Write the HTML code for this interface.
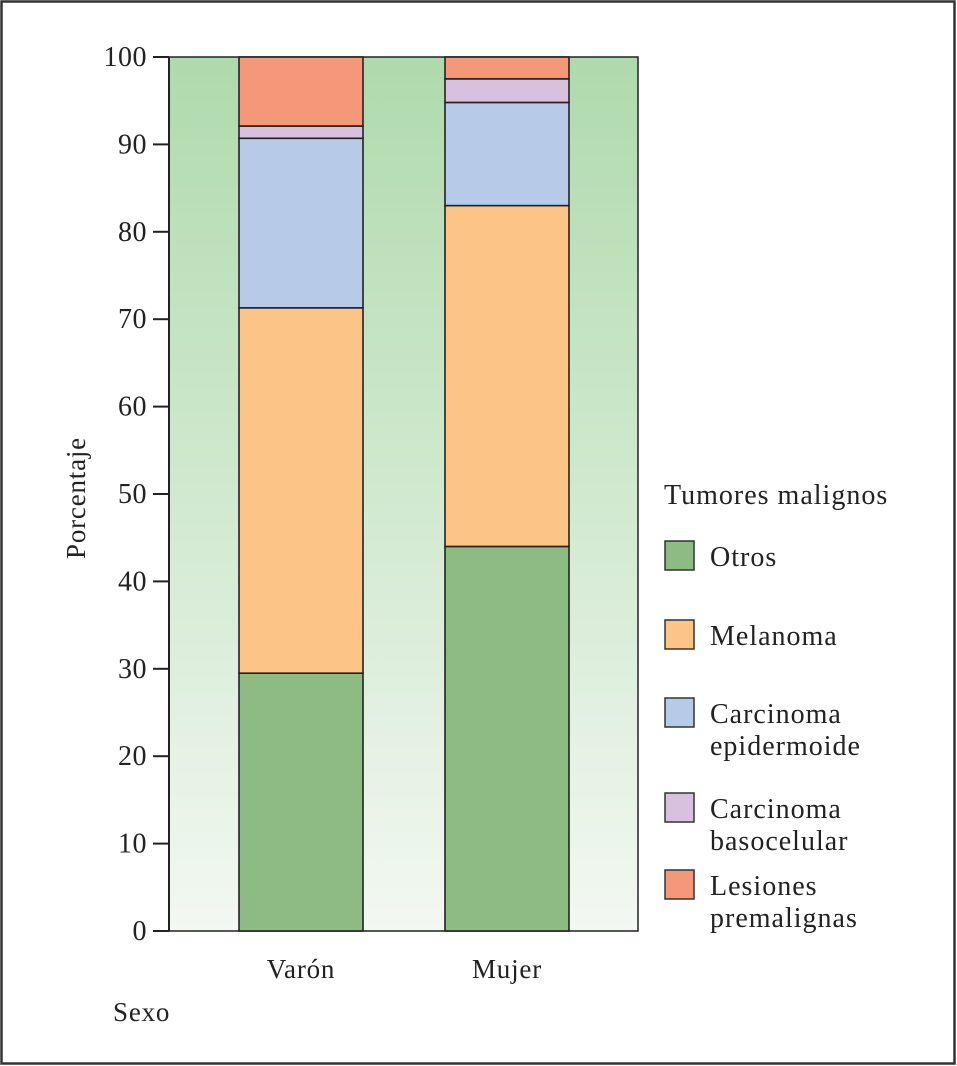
<!DOCTYPE html>
<html><head><meta charset="utf-8"><style>
html,body{margin:0;padding:0;background:#fff;}
svg{display:block;}
text{font-family:"Liberation Serif",serif;fill:#222;}
</style></head><body>
<svg id="chart" width="957" height="1066" viewBox="0 0 957 1066">
<defs><linearGradient id="bg" x1="0" y1="0" x2="0" y2="1"><stop offset="0" stop-color="#afdaad"/><stop offset="1" stop-color="#f3f8f2"/></linearGradient></defs>
<rect x="1.5" y="1.5" width="953" height="1062" fill="#fff" stroke="#333" stroke-width="2.5"/>
<rect x="169" y="57" width="469" height="874" fill="url(#bg)" stroke="#222" stroke-width="1.5"/>
<g id="bars"></g>
<g id="yaxis"></g>
<line x1="169" y1="57" x2="169" y2="931" stroke="#222" stroke-width="2"/>
<text x="85" y="498" font-size="27" letter-spacing="0.8" transform="rotate(-90 85 498)" text-anchor="middle">Porcentaje</text>
<text x="113" y="1021" font-size="27" letter-spacing="0.8">Sexo</text>
<g id="legend"></g>
</svg>
<script>
const categories = ["Varón","Mujer"];
const seriesNames = ["Otros","Melanoma","Carcinoma epidermoide","Carcinoma basocelular","Lesiones premalignas"];
const otros = [29.5, 44.0];
const melanoma = [41.8, 39.0];
const epidermoide = [19.4, 11.8];
const basocelular = [1.4, 2.7];
const premalignas = [7.9, 2.5];
const yTicks = [0,10,20,30,40,50,60,70,80,90,100];
const colors = ["#8dbb83","#fdc487","#b7cbe9","#d7c1df","#f59879"];
const legendLines = [["Otros"],["Melanoma"],["Carcinoma","epidermoide"],["Carcinoma","basocelular"],["Lesiones","premalignas"]];

const NS="http://www.w3.org/2000/svg";
const y0=931, y1=57;
const yScale=v=>y0-(v/100)*(y0-y1);
const barX=i=>239+i*206, barW=124;
function mk(tag,attrs,parent){const e=document.createElementNS(NS,tag);for(const k in attrs)e.setAttribute(k,attrs[k]);parent.appendChild(e);return e;}
const series=[otros,melanoma,epidermoide,basocelular,premalignas];
const bars=document.getElementById('bars');
categories.forEach((c,i)=>{
  let acc=0;
  series.forEach((s,j)=>{
    const top=yScale(acc+s[i]), bot=yScale(acc);
    const r=mk('rect',{x:barX(i),y:top,width:barW,height:bot-top,fill:colors[j],stroke:'#222','stroke-width':1.6},bars);
    
    
    acc+=s[i];
  });
  const t=mk('text',{x:barX(i)+barW/2,y:978,'font-size':27,'letter-spacing':0.8,'text-anchor':'middle'},bars);
  t.textContent=c;
  
  
});
const ya=document.getElementById('yaxis');
yTicks.forEach(v=>{
  const y=yScale(v);
  const l=mk('line',{x1:153,x2:169,y1:y,y2:y,stroke:'#222','stroke-width':2},ya);
  
  
  const t=mk('text',{x:147,y:y+9,'font-size':28,'letter-spacing':0.5,'text-anchor':'end'},ya);
  t.textContent=v;
  
  
});
const lg=document.getElementById('legend');
const lt=mk('text',{x:664,y:504,'font-size':28,'letter-spacing':1},lg);
lt.textContent="Tumores malignos";


const ly=[541,620,698,793,870];
legendLines.forEach((ls,j)=>{
  const r=mk('rect',{x:665,y:ly[j],width:29,height:29,fill:colors[j],stroke:'#333','stroke-width':1.5},lg);
  
  
  ls.forEach((s,k)=>{
    const t=mk('text',{x:710,y:ly[j]+25+k*32,'font-size':28,'letter-spacing':1},lg);
    t.textContent=s;
    
    
  });
});
</script>
</body></html>
